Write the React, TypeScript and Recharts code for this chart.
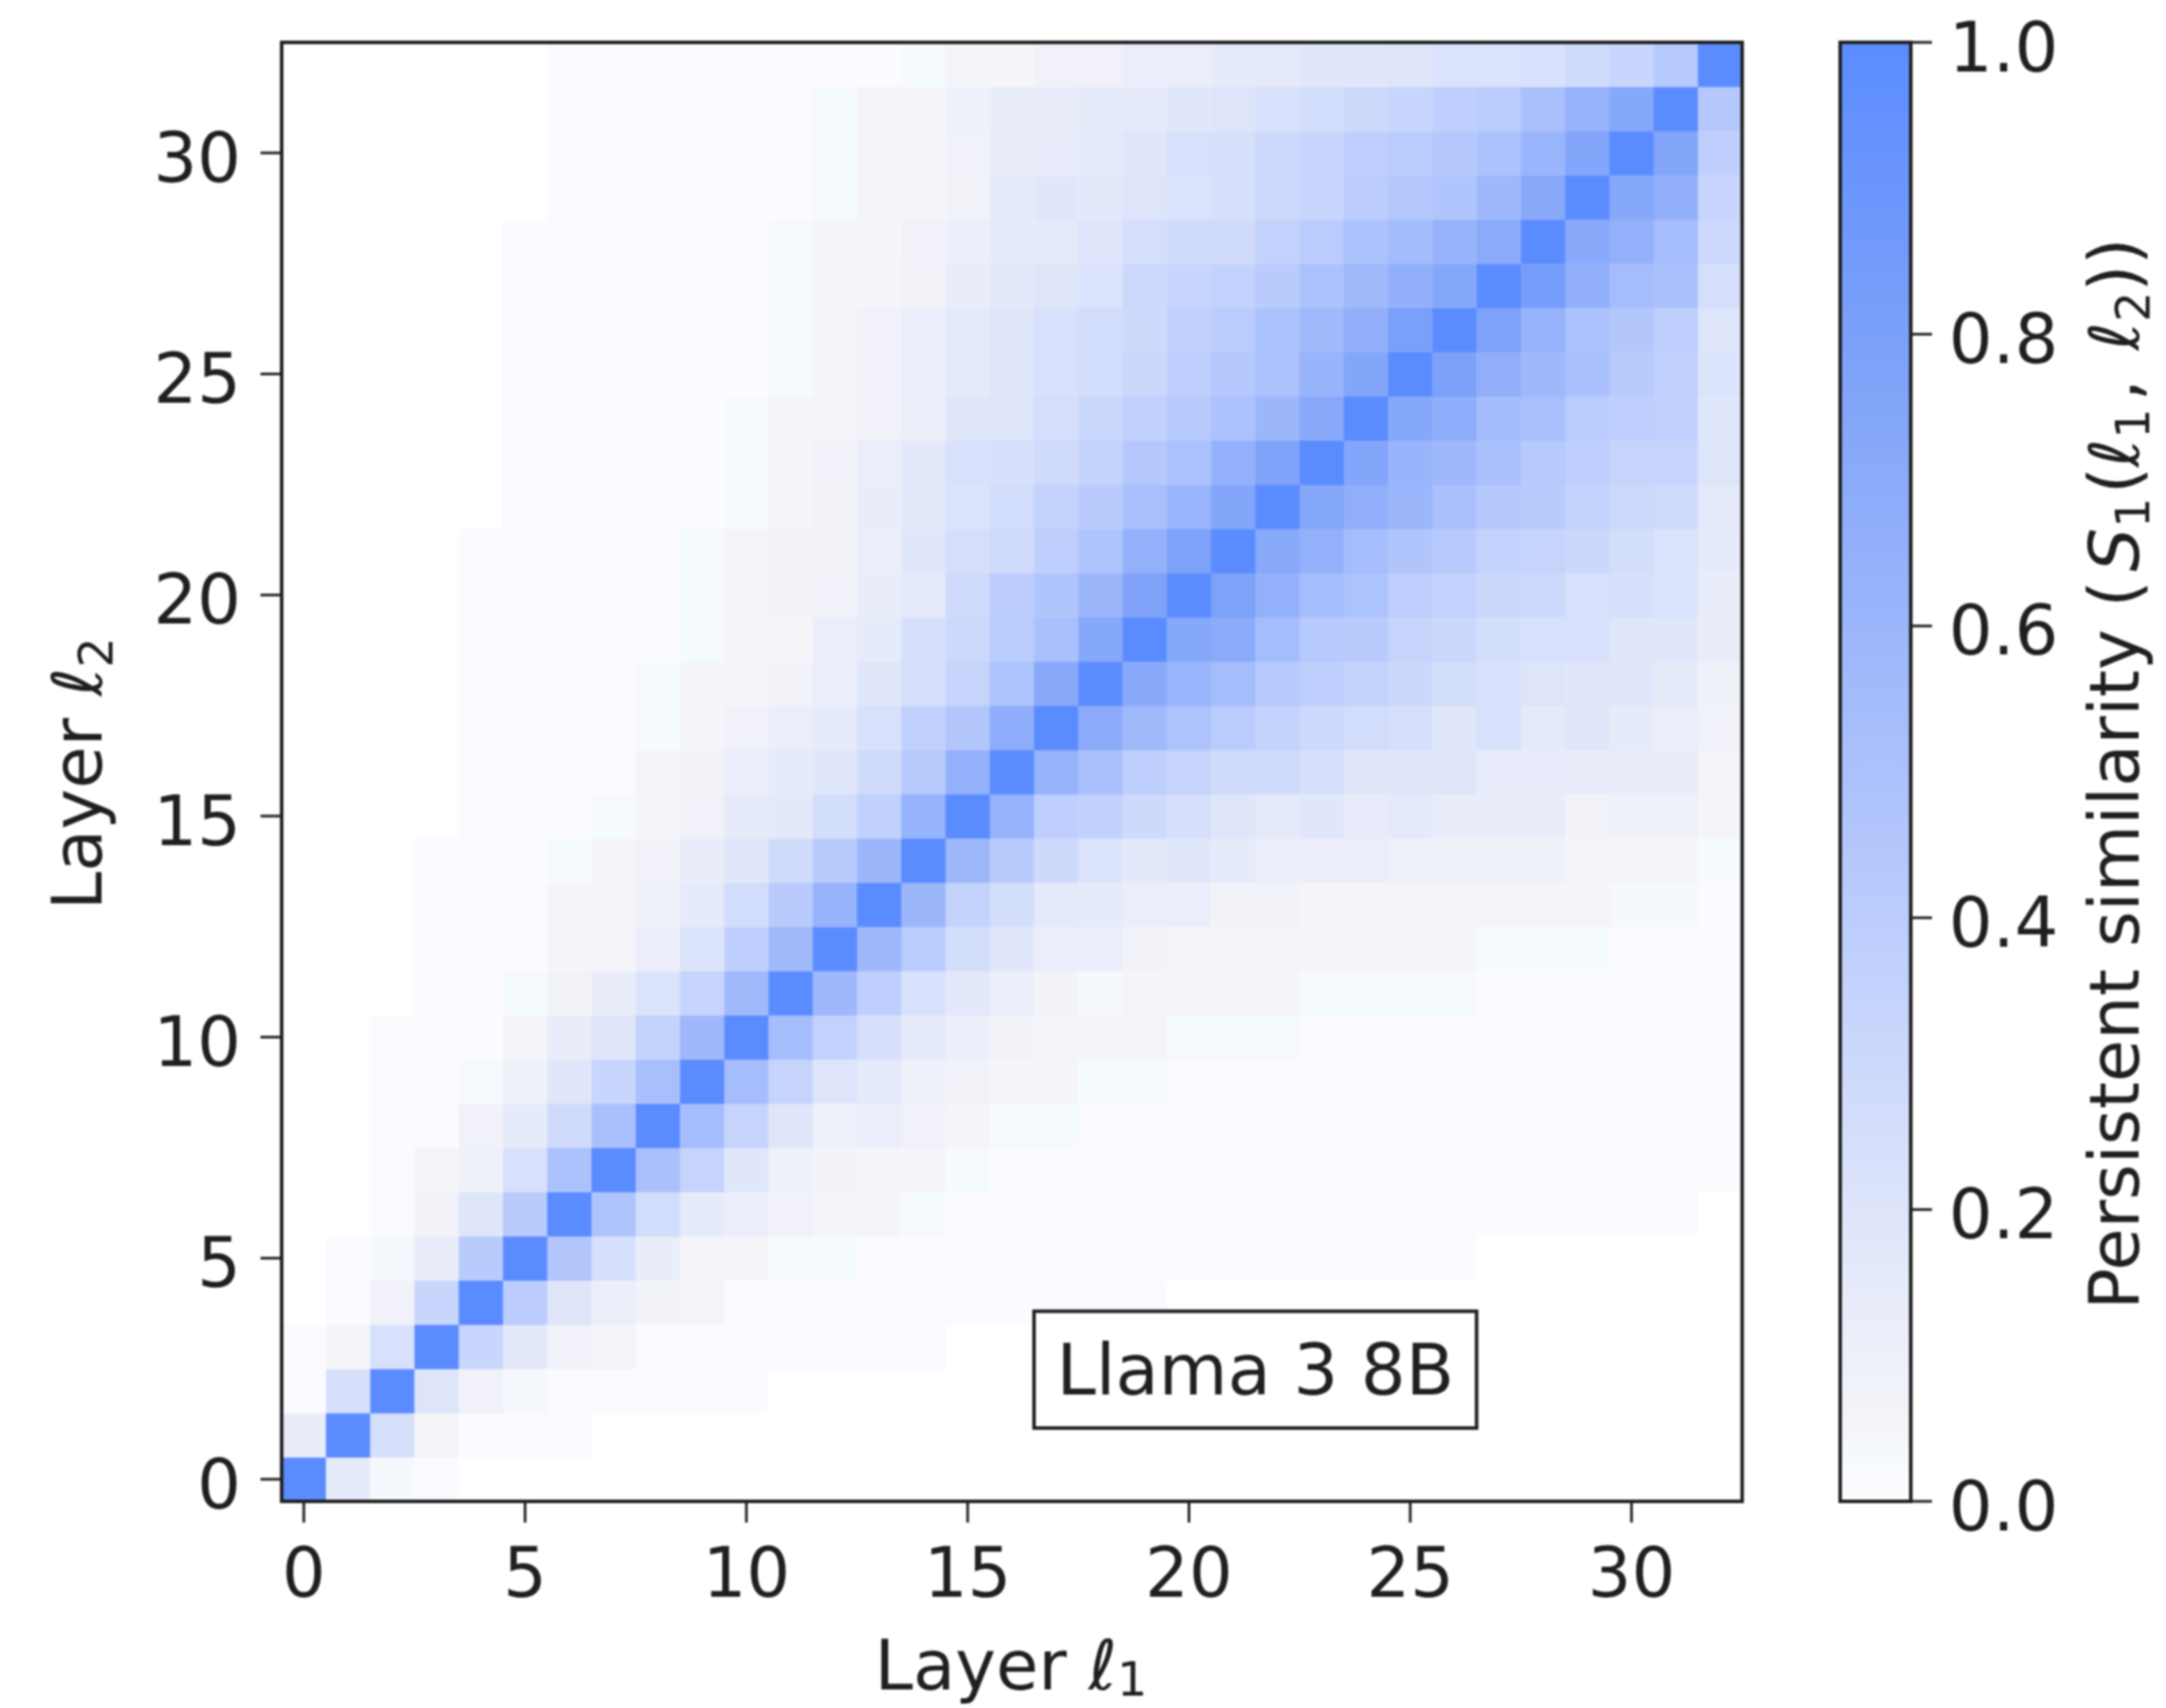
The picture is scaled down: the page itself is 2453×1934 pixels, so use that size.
import React from 'react'
import {
  Bar,
  BarChart,
  ReferenceArea,
  Scatter,
  ScatterChart,
  XAxis,
  YAxis,
} from 'recharts'

const layers = Array.from({ length: 33 }, (_, i) => i)
const layerTicks = [0, 5, 10, 15, 20, 25, 30]
const colorbarTicks = [0, 0.2, 0.4, 0.6, 0.8, 1]
const colorbarData = [{ name: 'similarity', value: 1 }]
const frameCorners = [{ l1: -0.5, l2: -0.5 }, { l1: 32.5, l2: 32.5 }]

// colormap stops
const rampValues = [0, 0.02, 0.03, 0.05, 0.15, 0.25, 0.4, 0.6, 0.8, 1]
const rampColors = [
  [253, 253, 255],
  [251, 251, 255],
  [245, 250, 255],
  [245, 245, 249],
  [230, 235, 250],
  [213, 223, 251],
  [188, 205, 253],
  [155, 182, 251],
  [123, 160, 249],
  [91, 140, 255],
]

// rows are layer l2 = 0..32, columns are layer l1 = 0..32, values in percent
const similarity = [
  [100,15,4,2,0,0,0,0,0,0,0,0,0,0,0,0,0,0,0,0,0,0,0,0,0,0,0,0,0,0,0,0,0],
  [13,100,24,5,2,2,2,0,0,0,0,0,0,0,0,0,0,0,0,0,0,0,0,0,0,0,0,0,0,0,0,0,0],
  [2,24,100,20,8,4,2,2,2,2,2,0,0,0,0,0,0,0,0,0,0,0,0,0,0,0,0,0,0,0,0,0,0],
  [2,5,23,100,33,17,8,5,2,2,2,2,2,2,2,0,0,0,0,0,0,0,0,0,0,0,0,0,0,0,0,0,0],
  [0,2,8,33,100,40,19,11,7,5,2,2,2,2,2,2,2,2,2,2,0,0,0,0,0,0,0,0,0,0,0,0,0],
  [0,2,4,13,42,100,46,24,13,6,5,3,3,2,2,2,2,2,2,2,2,2,2,2,2,2,2,0,0,0,0,0,0],
  [0,0,2,7,19,42,100,48,27,15,12,8,5,5,3,2,2,2,2,2,2,2,2,2,2,2,2,2,2,2,2,2,0],
  [0,0,2,5,9,23,50,100,51,34,18,10,7,5,5,3,2,2,2,2,2,2,2,2,2,2,2,2,2,2,2,2,2],
  [0,0,2,2,8,15,28,51,100,54,34,19,10,12,8,5,3,3,2,2,2,2,2,2,2,2,2,2,2,2,2,2,2],
  [0,0,2,2,3,9,18,33,52,100,54,34,20,16,10,7,5,5,3,3,2,2,2,2,2,2,2,2,2,2,2,2,2],
  [0,0,2,2,2,5,13,19,35,58,100,54,36,24,15,11,7,5,5,5,3,3,3,2,2,2,2,2,2,2,2,2,2],
  [0,0,0,2,2,3,7,13,22,34,57,100,58,38,23,17,11,7,4,5,5,5,5,3,3,3,3,2,2,2,2,2,2],
  [0,0,0,2,2,2,5,6,12,21,38,57,100,58,41,26,18,12,12,7,6,5,5,5,5,5,5,3,3,3,2,2,2],
  [0,0,0,2,2,2,5,6,10,15,27,42,63,100,60,35,26,16,15,12,12,7,7,6,5,5,5,5,5,5,4,4,2],
  [0,0,0,2,2,2,3,5,8,13,18,28,42,60,100,59,42,29,21,17,18,15,12,12,12,9,9,9,9,5,5,5,3],
  [0,0,0,0,2,2,2,3,5,8,15,17,26,37,63,100,64,38,37,29,24,19,16,18,14,16,13,13,13,7,9,9,5],
  [0,0,0,0,2,2,2,2,5,7,12,15,18,28,42,65,100,64,51,39,34,28,28,24,19,18,19,14,14,13,13,13,6],
  [0,0,0,0,2,2,2,2,3,5,8,12,15,23,37,46,68,100,70,57,49,41,35,30,27,25,19,23,16,18,15,12,8],
  [0,0,0,0,2,2,2,2,3,5,5,7,12,19,25,34,49,71,100,71,61,54,43,38,35,31,26,23,20,18,18,15,9],
  [0,0,0,0,2,2,2,2,2,3,5,6,12,15,24,30,41,51,73,100,73,70,54,43,42,34,31,26,23,23,19,18,13],
  [0,0,0,0,2,2,2,2,2,3,5,7,8,13,16,28,40,47,60,77,100,78,65,54,49,39,36,31,30,23,24,22,13],
  [0,0,0,0,2,2,2,2,2,3,5,7,7,12,18,25,28,39,48,65,78,100,72,65,54,47,43,36,34,31,26,22,15],
  [0,0,0,0,0,2,2,2,2,2,3,5,7,13,17,22,27,35,42,52,61,75,100,74,67,60,51,44,42,35,30,28,16],
  [0,0,0,0,0,2,2,2,2,2,3,5,8,12,17,23,24,28,35,44,50,65,77,100,75,62,58,51,43,38,34,34,20],
  [0,0,0,0,0,2,2,2,2,2,3,5,5,8,11,18,20,25,32,37,43,50,60,72,100,73,68,55,52,41,38,37,18],
  [0,0,0,0,0,2,2,2,2,2,2,3,5,8,12,16,19,23,27,31,39,44,50,62,75,100,79,67,58,51,42,37,21],
  [0,0,0,0,0,2,2,2,2,2,2,3,5,8,12,16,19,23,27,29,37,41,50,57,67,80,100,78,63,50,45,39,20],
  [0,0,0,0,0,2,2,2,2,2,2,3,5,5,7,13,17,19,22,30,33,36,42,50,57,66,74,100,83,66,54,51,25],
  [0,0,0,0,0,2,2,2,2,2,2,3,5,5,8,11,15,16,20,25,28,28,36,41,50,55,63,70,100,71,65,54,30],
  [0,0,0,0,0,0,2,2,2,2,2,2,3,5,5,7,15,18,17,20,22,24,30,33,40,44,47,58,71,100,73,67,33],
  [0,0,0,0,0,0,2,2,2,2,2,2,3,5,5,8,13,14,16,18,23,24,30,33,38,41,44,50,61,75,100,75,38],
  [0,0,0,0,0,0,2,2,2,2,2,2,3,5,5,10,13,13,15,16,18,20,23,27,29,33,38,41,51,63,73,100,44],
  [0,0,0,0,0,0,2,2,2,2,2,2,2,2,3,5,5,8,8,12,12,15,16,18,18,19,22,22,23,28,33,43,100],
]

const cells = layers.flatMap((l2) =>
  layers.map((l1) => ({ l1, l2, value: similarity[l2][l1] / 100 })),
)

const INK = '#1f1f1f'
const FONT = '"DejaVu Sans", sans-serif'
const FONT_SIZE = 78

const PLOT_W = 1654
const PLOT_H = 1652
const CELL_W = PLOT_W / layers.length
const CELL_H = PLOT_H / layers.length

const rgb = (c: number[]) => `rgb(${c[0]},${c[1]},${c[2]})`

const cellColor = (v: number) => {
  if (v === 0) return '#ffffff'
  let i = 0
  while (i < rampValues.length - 2 && v > rampValues[i + 1]) i++
  const t = (v - rampValues[i]) / (rampValues[i + 1] - rampValues[i])
  return rgb(rampColors[i].map((low, k) => Math.round(low + (rampColors[i + 1][k] - low) * t)))
}

const HeatCell = (props: any) => (
  <rect
    x={props.cx - CELL_W / 2}
    y={props.cy - CELL_H / 2}
    width={CELL_W + 0.5}
    height={CELL_H + 0.5}
    fill={cellColor(props.payload.value)}
  />
)

const tickStyle = { fontFamily: FONT, fontSize: FONT_SIZE, fill: INK, dy: 5 }
const SUB = { dy: 12, fontSize: 54 }
const frameMargin = { top: 48, right: 480, bottom: 234, left: 319 }

export default function App() {
  return (
    <div style={{ position: 'absolute', left: 0, top: 0, width: 2453, height: 1934, background: '#fff', filter: 'blur(1px)' }}>
      <div style={{ position: 'absolute', left: 0, top: 0 }}>
        <ScatterChart
          width={2453}
          height={1934}
          margin={{ top: 48, right: 480, bottom: 134, left: 219 }}
        >
          <XAxis
            type="number"
            dataKey="l1"
            domain={[-0.5, 32.5]}
            ticks={layerTicks}
            interval={0}
            height={100}
            tickSize={24}
            tickMargin={24}
            stroke={INK}
            strokeWidth={3}
            tick={tickStyle}
          />
          <YAxis
            type="number"
            dataKey="l2"
            domain={[-0.5, 32.5]}
            ticks={layerTicks}
            interval={0}
            width={100}
            tickSize={24}
            tickMargin={22}
            stroke={INK}
            strokeWidth={3}
            tick={tickStyle}
          />
          <Scatter data={cells} shape={HeatCell} isAnimationActive={false} />
          <text x={1145} y={1913} textAnchor="middle" fontFamily={FONT} fontSize={FONT_SIZE} fill={INK}>
            Layer <tspan fontStyle="italic">ℓ</tspan>
            <tspan dy={7} fontSize={54}>1</tspan>
          </text>
          <text
            transform="translate(115 876) rotate(-90)"
            textAnchor="middle"
            fontFamily={FONT}
            fontSize={FONT_SIZE}
            fill={INK}
          >
            Layer <tspan fontStyle="italic">ℓ</tspan>
            <tspan {...SUB}>2</tspan>
          </text>
        </ScatterChart>
      </div>
      <div style={{ position: 'absolute', left: 0, top: 0 }}>
        <ScatterChart width={2453} height={1934} margin={frameMargin}>
          <XAxis type="number" dataKey="l1" domain={[-0.5, 32.5]} hide />
          <YAxis type="number" dataKey="l2" domain={[-0.5, 32.5]} hide width={0} />
          <Scatter data={frameCorners} fill="none" isAnimationActive={false} />
          <ReferenceArea
            x1={-0.5}
            x2={32.5}
            y1={-0.5}
            y2={32.5}
            fill="none"
            stroke={INK}
            strokeWidth={4}
          />
          <ReferenceArea
            x1={16.5}
            x2={26.5}
            y1={1.16}
            y2={3.8}
            fill="#ffffff"
            fillOpacity={1}
            stroke={INK}
            strokeWidth={4}
            label={{
              value: 'Llama 3 8B',
              position: 'center',
              fontFamily: FONT,
              fontSize: 80,
              fill: INK,
            }}
          />
        </ScatterChart>
      </div>
      <div style={{ position: 'absolute', left: 2000, top: 0 }}>
        <BarChart
          width={453}
          height={1934}
          data={colorbarData}
          barCategoryGap={0}
          margin={{ top: 48, right: 0, bottom: 234, left: 84 }}
        >
          <defs>
            <linearGradient id="similarityRamp" x1="0" y1="1" x2="0" y2="0">
              {rampValues.map((v, i) => (
                <stop key={v} offset={`${v * 100}%`} stopColor={rgb(rampColors[i])} />
              ))}
            </linearGradient>
          </defs>
          <XAxis dataKey="name" hide />
          <YAxis
            orientation="right"
            domain={[0, 1]}
            ticks={colorbarTicks}
            interval={0}
            width={289}
            axisLine={false}
            tickSize={24}
            tickMargin={19}
            stroke={INK}
            strokeWidth={3}
            tick={tickStyle}
            tickFormatter={(v: number) => v.toFixed(1)}
          />
          <Bar
            dataKey="value"
            fill="url(#similarityRamp)"
            stroke={INK}
            strokeWidth={4}
            isAnimationActive={false}
          />
          <text
            transform="translate(422 1483) rotate(-90)"
            fontFamily={FONT}
            fontSize={FONT_SIZE}
            fill={INK}
          >
            Persistent similarity (<tspan fontStyle="italic" dx={10}>S</tspan>
            <tspan {...SUB}>1</tspan>
            <tspan dy={-12} dx={4}>(</tspan>
            <tspan fontStyle="italic">ℓ</tspan>
            <tspan {...SUB}>1</tspan>
            <tspan dy={-12} dx={8}>,</tspan>
            <tspan fontStyle="italic" dx={8}> ℓ</tspan>
            <tspan {...SUB}>2</tspan>
            <tspan dy={-12}>))</tspan>
          </text>
        </BarChart>
      </div>
    </div>
  )
}
